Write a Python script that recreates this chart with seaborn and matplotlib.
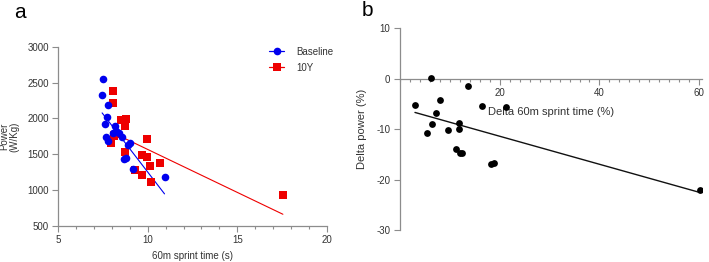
import numpy as np
import pandas as pd
import matplotlib
matplotlib.use("Agg")
import matplotlib.pyplot as plt
from matplotlib.lines import Line2D
from matplotlib.ticker import MultipleLocator
import seaborn as sns

# Panel a data
base_time = [7.51, 7.46, 7.78, 7.74, 7.63, 7.66, 7.78, 8.18, 8.26, 8.38, 8.58, 8.91, 9.00, 8.69, 8.78, 9.19, 10.94, 8.05]
base_power = [2553, 2322, 2191, 2020, 1918, 1745, 1681, 1894, 1829, 1790, 1745, 1625, 1653, 1430, 1444, 1299, 1187, 1790]
y10_time = [8.07, 8.07, 8.54, 8.80, 8.71, 8.13, 7.94, 8.71, 9.97, 9.69, 9.99, 10.12, 10.68, 9.32, 9.69, 10.20, 17.54, 8.30]
y10_power = [2382, 2219, 1972, 1994, 1894, 1752, 1662, 1538, 1715, 1492, 1466, 1336, 1385, 1277, 1211, 1118, 928, 1780]

# Panel b data
delta_time = [3.0, 6.2, 8.1, 7.2, 6.5, 5.4, 9.7, 11.8, 11.9, 11.2, 12.1, 12.5, 13.7, 16.4, 18.2, 18.9, 21.3, 60.2]
delta_power = [-5.2, 0.2, -4.3, -6.8, -8.9, -10.7, -10.2, -8.7, -9.9, -14.0, -14.7, -14.7, -1.4, -5.4, -16.9, -16.8, -5.6, -22.0]

series_labels = ["Baseline", "10Y"]

sns.set_style("ticks")
plt.rcParams["font.family"] = ["Liberation Sans", "DejaVu Sans"]
plt.rcParams["axes.unicode_minus"] = False

TXT = "#333333"
SP = "#8c8c8c"
FS = 7

fig = plt.figure(figsize=(7.09, 2.62), dpi=100)
axa = fig.add_axes([58 / 709, 1 - 226 / 262, (327 - 58) / 709, (226 - 46.7) / 262])
axb = fig.add_axes([400 / 709, 1 - 230 / 262, (701.7 - 400) / 709, (230 - 28.3) / 262])

dfa = pd.DataFrame({"t": base_time, "p": base_power})
dfr = pd.DataFrame({"t": y10_time, "p": y10_power})
sns.regplot(data=dfa, x="t", y="p", ax=axa, ci=None, color="#0000ee",
            scatter_kws=dict(s=30, linewidths=0, alpha=1, zorder=3),
            line_kws=dict(lw=0.8, zorder=2))
sns.regplot(data=dfr, x="t", y="p", ax=axa, ci=None, color="#ee0000", marker="s",
            scatter_kws=dict(s=30, linewidths=0, alpha=1, zorder=2),
            line_kws=dict(lw=0.8, zorder=2))

axa.set_xlim(5, 20)
axa.set_ylim(500, 3000)
axa.set_xticks([5, 10, 15, 20])
axa.xaxis.set_minor_locator(MultipleLocator(1))
axa.set_yticks([500, 1000, 1500, 2000, 2500, 3000])
axa.set_xlabel("60m sprint time (s)", fontsize=FS, color=TXT, labelpad=4)
axa.set_ylabel("Power\n(W/Kg)", fontsize=FS, color=TXT, labelpad=6, linespacing=1.0)
for s in ["top", "right"]:
    axa.spines[s].set_visible(False)
for s in ["left", "bottom"]:
    axa.spines[s].set_color(SP)
    axa.spines[s].set_linewidth(0.9)
axa.tick_params(which="major", length=4, width=0.8, color=SP, labelsize=FS, labelcolor=TXT, pad=2.5)
axa.tick_params(which="minor", length=2.5, width=0.8, color=SP)

handles = [Line2D([], [], color="#0000ee", marker="o", markersize=5.5, lw=0.9, markeredgewidth=0),
           Line2D([], [], color="#ee0000", marker="s", markersize=5.5, lw=0.9, markeredgewidth=0)]
leg = axa.legend(handles, series_labels, loc="upper left", bbox_to_anchor=(264 / 709, 1 - 42 / 262),
                 bbox_transform=fig.transFigure, frameon=False, fontsize=FS,
                 handlelength=1.6, handletextpad=1.2, labelspacing=0.6, borderpad=0)
for t in leg.get_texts():
    t.set_color(TXT)

dfb = pd.DataFrame({"dt": delta_time, "dp": delta_power})
sns.regplot(data=dfb, x="dt", y="dp", ax=axb, ci=None, color="black",
            scatter_kws=dict(s=24, linewidths=0, alpha=1, zorder=3),
            line_kws=dict(lw=1.0, color="#111111"))
axb.set_xlim(0, 60.5)
axb.set_ylim(-30, 10)
axb.set_xticks([20, 40, 60])
axb.xaxis.set_minor_locator(MultipleLocator(2))
axb.set_yticks([10, 0, -10, -20, -30])
axb.spines["bottom"].set_position(("data", 0))
for s in ["top", "right"]:
    axb.spines[s].set_visible(False)
for s in ["left", "bottom"]:
    axb.spines[s].set_color(SP)
    axb.spines[s].set_linewidth(0.9)
axb.spines["bottom"].set_bounds(0, 60.5)
axb.tick_params(which="major", length=4, width=0.8, color=SP, labelsize=FS, labelcolor=TXT, pad=3)
axb.tick_params(which="minor", length=2.5, width=0.8, color=SP)
axb.set_xlabel("Delta 60m sprint time (%)", fontsize=8, color=TXT, labelpad=6)
axb.set_ylabel("Delta power (%)", fontsize=8, color=TXT, labelpad=7)

fig.text(14 / 709, 1 - 12 / 262, "a", fontsize=15, color="black", va="center", ha="left")
fig.text(362 / 709, 1 - 10 / 262, "b", fontsize=15, color="black", va="center", ha="left")

fig.savefig("out.png", dpi=100)
